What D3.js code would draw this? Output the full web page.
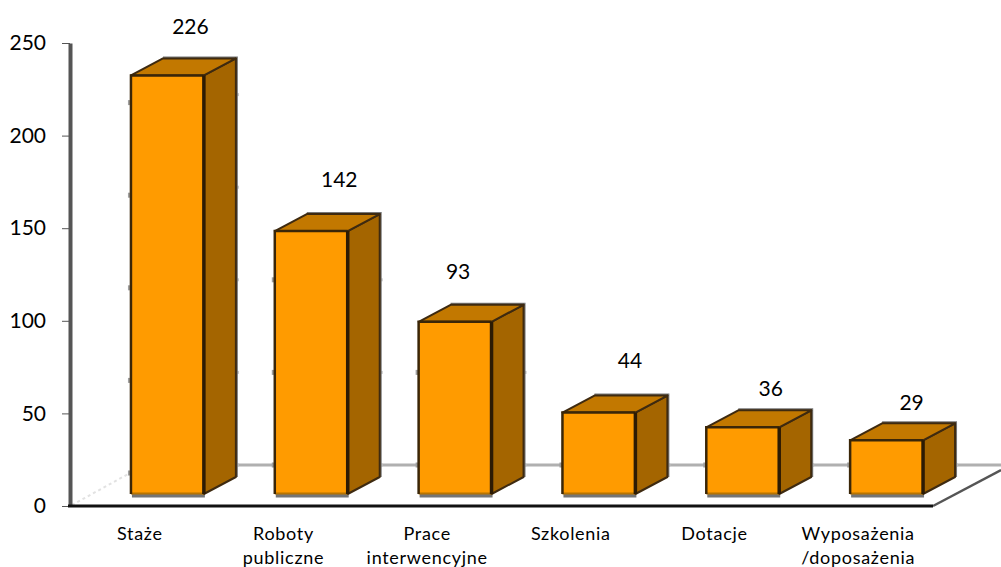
<!DOCTYPE html>
<html>
<head>
<meta charset="utf-8">
<script src="https://cdn.jsdelivr.net/npm/d3@7"></script>
<style>
  html, body { margin: 0; padding: 0; background: #ffffff; }
  svg { display: block; }
  text { font-family: Lato, "Open Sans", sans-serif; fill: #000000; }
</style>
</head>
<body>
<script>
// chart data
var categories = ["Staże", "Roboty publiczne", "Prace interwencyjne", "Szkolenia", "Dotacje", "Wyposażenia /doposażenia"];
var values = [226, 142, 93, 44, 36, 29];
var tickLabels = [0, 50, 100, 150, 200, 250];

// the value labels do not sit centred over the bars in the original
var labelDx = [23, 28, 3, 31, 28, 25];
var labelDy = [-30, -32, -31, -33, -20, -19];

function main(){
  var w = 1001;
  var h = 567;

  // 3D offsets of the box
  var depthX = 32;
  var depthY = -17;
  var baseLift = 12;
  var floorY = 506;
  var axisX = 70;
  var wallLift = 41;
  var sideLift = 33;

  var svg = d3.select("body").append("svg")
    .attr("width", w)
    .attr("height", h);

  var y = d3.scaleLinear().domain([0, 250]).range([floorY, 43]);

  // bars and their category labels do not share the same centre
  var xBar = d3.scaleBand().domain(categories).range([95.5, 958.5]).paddingInner(0.493).paddingOuter(0.2465);
  var xLabel = d3.scaleBand().domain(categories).range([68, 930]);

  // back wall floor line
  svg.append("line")
    .attr("x1", 130).attr("x2", w)
    .attr("y1", y(0) - wallLift).attr("y2", y(0) - wallLift)
    .attr("stroke", "#b0b0b0")
    .attr("stroke-width", 3);

  // floor edges
  svg.append("line")
    .attr("x1", axisX + 2).attr("y1", floorY - 1)
    .attr("x2", 130).attr("y2", y(0) - sideLift)
    .attr("stroke", "#e2e2e2")
    .attr("stroke-width", 2)
    .attr("stroke-dasharray", "3,3");
  svg.append("line")
    .attr("x1", 933).attr("y1", floorY)
    .attr("x2", w).attr("y2", 470)
    .attr("stroke", "#555555")
    .attr("stroke-width", 2.5);

  // y axis, built with the d3 axis and restyled
  var yAxis = svg.append("g")
    .attr("transform", "translate(" + axisX + ",0)")
    .call(d3.axisLeft(y).tickValues(tickLabels).tickSize(8).tickSizeOuter(0).tickPadding(16));
  yAxis.select(".domain")
    .attr("stroke", "#555555")
    .attr("stroke-width", 4);
  yAxis.selectAll(".tick line")
    .attr("stroke", "#555555")
    .attr("stroke-width", 1);
  yAxis.selectAll(".tick text")
    .style("font-size", "21px")
    .style("font-family", "Lato, 'Open Sans', sans-serif")
    .attr("fill", "#000000");

  // x axis line
  svg.append("line")
    .attr("x1", axisX - 2).attr("x2", 933)
    .attr("y1", floorY).attr("y2", floorY)
    .attr("stroke", "#111111")
    .attr("stroke-width", 3);

  var bars = svg.selectAll("g.bar")
    .data(categories)
    .enter()
    .append("g")
    .attr("class", "bar");

  function left(d){ return xBar(d); }
  function right(d){ return xBar(d) + xBar.bandwidth(); }
  function top(d, i){ return y(values[i]) - baseLift; }
  var bottom = floorY - baseLift;

  // stubs of the white gridlines where they run into a bar
  bars.each(function(d, i){
    var g = d3.select(this);
    tickLabels.forEach(function(t){
      var yLeft = y(t) - (i == 0 ? sideLift : wallLift);
      var yRight = y(t) - wallLift;
      if (yLeft > top(d, i) && yLeft < bottom) {
        g.append("rect")
          .attr("x", left(d) - 3).attr("y", yLeft - 2.5)
          .attr("width", 3).attr("height", 5)
          .attr("fill", "#a0a0a0");
      }
      if (yRight > top(d, i) + depthY && yRight < bottom + depthY) {
        g.append("rect")
          .attr("x", right(d) + depthX + 1).attr("y", yRight - 1.5)
          .attr("width", 2).attr("height", 3)
          .attr("fill", "#c4c4c4");
      }
    });
  });

  // grey shadow under the front face
  bars.append("rect")
    .attr("x", function(d){ return left(d) + 1; })
    .attr("y", bottom)
    .attr("width", xBar.bandwidth())
    .attr("height", 3.5)
    .attr("fill", "#757575");

  // grey shadow along the back and right edges
  bars.append("path")
    .attr("d", function(d, i){
      var l = left(d), r = right(d), t = top(d, i);
      return "M" + (l + depthX) + "," + (t + depthY - 1) +
        "L" + (r + depthX + 1) + "," + (t + depthY - 1) +
        "L" + (r + depthX + 1) + "," + (bottom + depthY);
    })
    .attr("fill", "none")
    .attr("stroke", "#777777")
    .attr("stroke-width", 2);

  // side
  bars.append("path")
    .attr("d", function(d, i){
      var r = right(d), t = top(d, i);
      return "M" + r + "," + t +
        "L" + (r + depthX) + "," + (t + depthY) +
        "L" + (r + depthX) + "," + (bottom + depthY) +
        "L" + r + "," + bottom + "Z";
    })
    .attr("fill", "#a46500")
    .attr("stroke", "#3e2a10")
    .attr("stroke-width", 2)
    .attr("stroke-linejoin", "round");

  // top
  bars.append("path")
    .attr("d", function(d, i){
      var l = left(d), r = right(d), t = top(d, i);
      return "M" + l + "," + t +
        "L" + (l + depthX) + "," + (t + depthY) +
        "L" + (r + depthX) + "," + (t + depthY) +
        "L" + r + "," + t + "Z";
    })
    .attr("fill", "#c27800")
    .attr("stroke", "#3e2a10")
    .attr("stroke-width", 2)
    .attr("stroke-linejoin", "round");

  // front
  bars.append("rect")
    .attr("x", left)
    .attr("y", top)
    .attr("width", xBar.bandwidth())
    .attr("height", function(d, i){ return bottom - top(d, i); })
    .attr("fill", "#ff9b00");

  // front bottom edge is only a darker orange
  bars.append("line")
    .attr("x1", left)
    .attr("x2", right)
    .attr("y1", bottom - 0.5)
    .attr("y2", bottom - 0.5)
    .attr("stroke", "#b87400")
    .attr("stroke-width", 2);

  // front left and top edges
  bars.append("path")
    .attr("d", function(d, i){
      var l = left(d), r = right(d), t = top(d, i);
      return "M" + l + "," + bottom + "L" + l + "," + t + "L" + r + "," + t;
    })
    .attr("fill", "none")
    .attr("stroke", "#3a2608")
    .attr("stroke-width", 2.5);

  // front right edge is the heavy one
  bars.append("line")
    .attr("x1", right)
    .attr("x2", right)
    .attr("y1", top)
    .attr("y2", bottom)
    .attr("stroke", "#2c1b04")
    .attr("stroke-width", 3.5);

  // value labels
  svg.selectAll("text.value")
    .data(categories)
    .enter()
    .append("text")
    .attr("class", "value")
    .attr("x", function(d, i){ return xBar(d) + xBar.bandwidth() / 2 + labelDx[i]; })
    .attr("y", function(d, i){ return top(d, i) + depthY + labelDy[i]; })
    .attr("text-anchor", "middle")
    .attr("dominant-baseline", "middle")
    .style("font-size", "21px")
    .text(function(d, i){ return values[i]; });

  // category labels, broken on the space like the original
  var catText = svg.selectAll("text.cat")
    .data(categories)
    .enter()
    .append("text")
    .attr("class", "cat")
    .attr("text-anchor", "middle")
    .style("font-size", "18px")
    .style("letter-spacing", "0.7px");

  catText.selectAll("tspan")
    .data(function(d){
      return d.split(" ").map(function(part){ return {cat: d, part: part}; });
    })
    .enter()
    .append("tspan")
    .attr("x", function(d){ return xLabel(d.cat) + xLabel.bandwidth() / 2; })
    .attr("y", function(d, i){ return 540 + i * 23.5; })
    .text(function(d){ return d.part; });
}

window.onload = function() {
  main();
};
</script>
</body>
</html>
